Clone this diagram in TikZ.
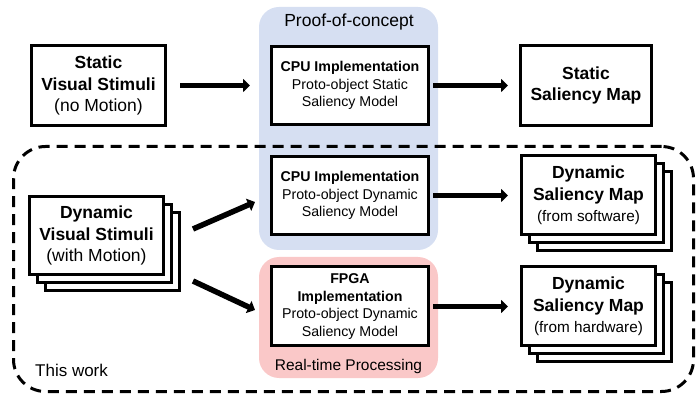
\documentclass[tikz,border=0pt]{standalone}
\usepackage{fontspec}
\setmainfont{Liberation Sans}
\usetikzlibrary{arrows.meta,calc}
\definecolor{pocblue}{RGB}{214,223,242}
\definecolor{rtpink}{RGB}{250,200,200}
\begin{document}
\begin{tikzpicture}[x=1pt,y=-1pt,
  box/.style={draw, line width=3pt, fill=white, align=center, inner sep=0pt},
  big/.style={box, minimum width=134pt, minimum height=80pt, font=\fontsize{17.5}{21.5}\selectfont},
  impl/.style={box, minimum width=157pt, minimum height=78pt, font=\fontsize{14.2}{17.5}\selectfont},
  arr/.style={line width=5.5pt, -{Triangle[length=7pt,width=13pt]}},
  zone/.style={rounded corners=20pt, inner sep=0pt, minimum width=179pt},
  smalltxt/.style={font=\fontsize{15.3}{18}\selectfont},
  ]
\useasboundingbox (0,0) rectangle (699,395);
% zones
\node[zone, fill=pocblue, minimum height=243pt] (poc) at (348.5,128.5) {};
\node[zone, fill=rtpink, minimum height=121pt] (rt) at (348.5,317.5) {};
\node[draw, line width=3pt, dash pattern=on 11pt off 7pt, rounded corners=32pt,
      minimum width=680pt, minimum height=245pt, inner sep=0pt] (tw) at (353.5,269) {};
% labels
\node[font=\fontsize{17.5}{21}\selectfont] (poct) at (349,22) {Proof-of-concept};
\node[font=\fontsize{15.5}{18}\selectfont] (rtp) at (348.5,366.5) {Real-time Processing};
\node[font=\fontsize{17}{20}\selectfont, anchor=west, inner sep=0pt] (twt) at (35,370) {This work};
% top row
\node[big] (ss) at (98.5,85.5) {\textbf{Static}\\\textbf{Visual Stimuli}\\(no Motion)};
\node[impl] (cpu1) at (350,85.5) {\textbf{CPU Implementation}\\Proto-object Static\\Saliency Model};
\node[big, minimum width=131pt] (ssm) at (586,85.5) {\textbf{Static}\\\textbf{Saliency Map}};
% dynamic stimuli stack
\node[big, minimum height=78pt] (ds3) at (112.5,251.5) {};
\node[big, minimum height=78pt] (ds2) at (104.5,243.5) {};
\node[big, minimum height=78pt] (ds) at (96.5,235.5) {\textbf{Dynamic}\\\textbf{Visual Stimuli}\\(with Motion)};
% implementations
\node[impl] (cpu2) at (350,195.5) {\textbf{CPU Implementation}\\Proto-object Dynamic\\Saliency Model};
\node[impl, minimum height=79pt] (fpga) at (350,306.5) {\textbf{FPGA}\\\textbf{Implementation}\\Proto-object Dynamic\\Saliency Model};
% dynamic saliency map stacks
\node[big, minimum height=79pt] (sw3) at (604.5,211.5) {};
\node[big, minimum height=79pt] (sw2) at (596.5,203.5) {};
\node[big, minimum height=79pt] (sw) at (588.5,195.5) {\textbf{Dynamic}\\\textbf{Saliency Map}\\{\fontsize{15.3}{18}\selectfont(from software)}};
\node[big, minimum height=79pt] (hw3) at (604.5,322.5) {};
\node[big, minimum height=79pt] (hw2) at (596.5,314.5) {};
\node[big, minimum height=79pt] (hw) at (588.5,306.5) {\textbf{Dynamic}\\\textbf{Saliency Map}\\{\fontsize{15.3}{18}\selectfont(from hardware)}};
% arrows
\draw[arr] ([xshift=13pt]ss.east) -- ([xshift=-20pt]cpu1.west);
\draw[arr] ([xshift=3pt]cpu1.east) -- ([xshift=-11pt]ssm.west);
\draw[arr] ([shift={(28,-6.5)}]ds.east) -- ([shift={(-15,6.5)}]cpu2.west);
\draw[arr] ([shift={(28,45.5)}]ds.east) -- ([shift={(-15,3.5)}]fpga.west);
\draw[arr] ([xshift=3pt]cpu2.east) -- ([xshift=-12pt]sw.west);
\draw[arr] ([xshift=3pt]fpga.east) -- ([xshift=-12pt]hw.west);
\end{tikzpicture}
\end{document}
